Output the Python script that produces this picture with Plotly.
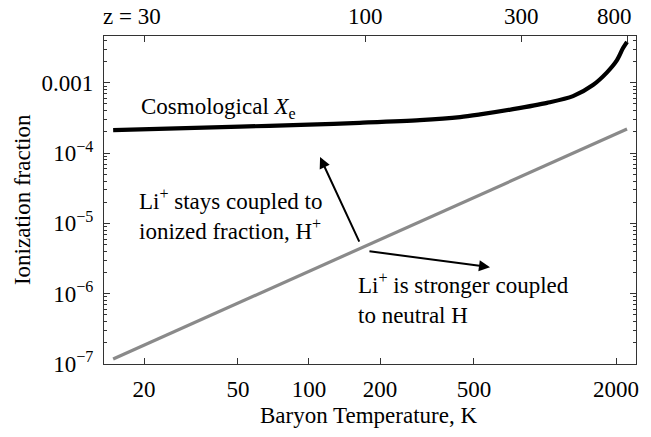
import plotly.graph_objects as go
import numpy as np

# ---- data ----
# Cosmological ionized fraction X_e vs baryon temperature
xe_T = [14.8, 51, 100, 164, 295, 437, 531, 732, 1021, 1315, 1597, 1832, 2019, 2142, 2227]
xe_val = [2.12e-4, 2.38e-4, 2.54e-4, 2.70e-4, 2.94e-4, 3.25e-4, 3.55e-4, 4.22e-4,
          5.19e-4, 6.46e-4, 9.3e-4, 1.41e-3, 2.10e-3, 3.12e-3, 3.83e-3]

# Li+ coupling threshold (grey line)
li_T = [14.8, 2227]
li_val = [1.18e-7, 2.2e-4]

# bottom axis ticks
x_tickvals = [20, 50, 100, 200, 500, 2000]
x_ticktext = ["20", "50", "100", "200", "500", "2000"]

# left axis ticks
y_tickvals = [1e-7, 1e-6, 1e-5, 1e-4, 1e-3]
y_ticktext = ["10<sup>\u22127</sup>", "10<sup>\u22126</sup>", "10<sup>\u22125</sup>",
              "10<sup>\u22124</sup>", "0.001"]

# top axis: redshift labels at corresponding baryon temperatures
z_labels = ["30", "100", "300", "800"]
z_T = [20, 173, 792, 2227]

FONT = "Liberation Serif"
FS = 23

x_range = [1.1315, 3.3857]
y_range = [-7, -2.334]

minor_y = [m * 10.0 ** e for e in range(-7, -2) for m in range(2, 10)]

fig = go.Figure()
fig.add_trace(go.Scatter(x=li_T, y=li_val, mode="lines",
                         line=dict(color="#8a8a8a", width=3.2),
                         hoverinfo="skip", showlegend=False))
fig.add_trace(go.Scatter(x=xe_T, y=xe_val, mode="lines",
                         line=dict(color="black", width=4.2, shape="spline", smoothing=0.8),
                         hoverinfo="skip", showlegend=False))
fig.add_trace(go.Scatter(x=z_T, y=[None] * len(z_T), xaxis="x2", mode="markers",
                         hoverinfo="skip", showlegend=False))

axis_common = dict(type="log", showgrid=False, zeroline=False, automargin=False,
                   linecolor="#333333", linewidth=1.2,
                   ticks="inside", tickcolor="#333333", tickwidth=1.2,
                   tickfont=dict(family=FONT, size=FS, color="black"))

annotations = [
    dict(text="Baryon Temperature, K", xref="paper", yref="paper", x=0.497, y=-0.158,
         xanchor="center", yanchor="middle", showarrow=False,
         font=dict(family=FONT, size=FS)),
    dict(text="Ionization fraction", xref="paper", yref="paper", x=-0.154, y=0.5,
         xanchor="center", yanchor="middle", textangle=-90, showarrow=False,
         font=dict(family=FONT, size=FS)),
    dict(text="Cosmological <i>X</i><sub>e</sub>", xref="x", yref="y",
         x=1.280, y=-3.36, xanchor="left", yanchor="middle", showarrow=False,
         font=dict(family=FONT, size=FS)),
    dict(text="Li<sup>+</sup> stays coupled to<br>ionized fraction, H<sup>+</sup>",
         xref="x", yref="y", x=1.271, y=-4.868, xanchor="left", yanchor="middle",
         align="left", showarrow=False, font=dict(family=FONT, size=FS)),
    dict(text="Li<sup>+</sup> is stronger coupled<br>to neutral H",
         xref="x", yref="y", x=2.199, y=-6.07, xanchor="left", yanchor="middle",
         align="left", showarrow=False, font=dict(family=FONT, size=FS)),
    dict(text="", xref="x", yref="y", axref="x", ayref="y",
         x=2.047, y=-4.057, ax=2.216, ay=-5.280,
         showarrow=True, arrowhead=2, arrowsize=1.1, arrowwidth=2, arrowcolor="black"),
    dict(text="", xref="x", yref="y", axref="x", ayref="y",
         x=2.767, y=-5.622, ax=2.250, ay=-5.394,
         showarrow=True, arrowhead=2, arrowsize=1.1, arrowwidth=2, arrowcolor="black"),
]

# top (redshift) labels
for i, (lab, t) in enumerate(zip(z_labels, z_T)):
    if i == 0:
        annotations.append(dict(text="z = " + lab, xref="paper", yref="paper",
                                x=0.0, y=1.058, xanchor="left", yanchor="middle",
                                xshift=-3, showarrow=False,
                                font=dict(family=FONT, size=FS)))
        continue
    shift = -13 if i == len(z_labels) - 1 else 0
    annotations.append(dict(text=lab, xref="x2", yref="paper", x=np.log10(t), y=1.058,
                            xanchor="center", yanchor="middle", xshift=shift,
                            showarrow=False, font=dict(family=FONT, size=FS)))

fig.update_layout(
    width=651, height=437,
    margin=dict(l=104, r=15, t=36, b=73),
    paper_bgcolor="white", plot_bgcolor="white",
    font=dict(family=FONT, size=FS, color="black"),
    xaxis=dict(axis_common, range=x_range, tickmode="array",
               tickvals=x_tickvals, ticktext=x_ticktext, ticklen=6,
               ticklabelstandoff=4, showline=True, mirror=False),
    xaxis2=dict(axis_common, range=x_range, overlaying="x", side="top", anchor="y",
                tickmode="array", tickvals=z_T, ticklen=6, showticklabels=False,
                showline=True),
    yaxis=dict(axis_common, range=y_range, tickmode="array",
               tickvals=y_tickvals, ticktext=y_ticktext, ticklen=6,
               ticklabelstandoff=5, showline=True, mirror="ticks",
               minor=dict(tickvals=minor_y, ticks="inside", ticklen=3,
                          tickcolor="#333333", showgrid=False)),
    annotations=annotations,
)

fig.write_html("out.html", config={"displayModeBar": False},
               post_script="document.body.style.margin='0';document.body.style.overflow='hidden';")
